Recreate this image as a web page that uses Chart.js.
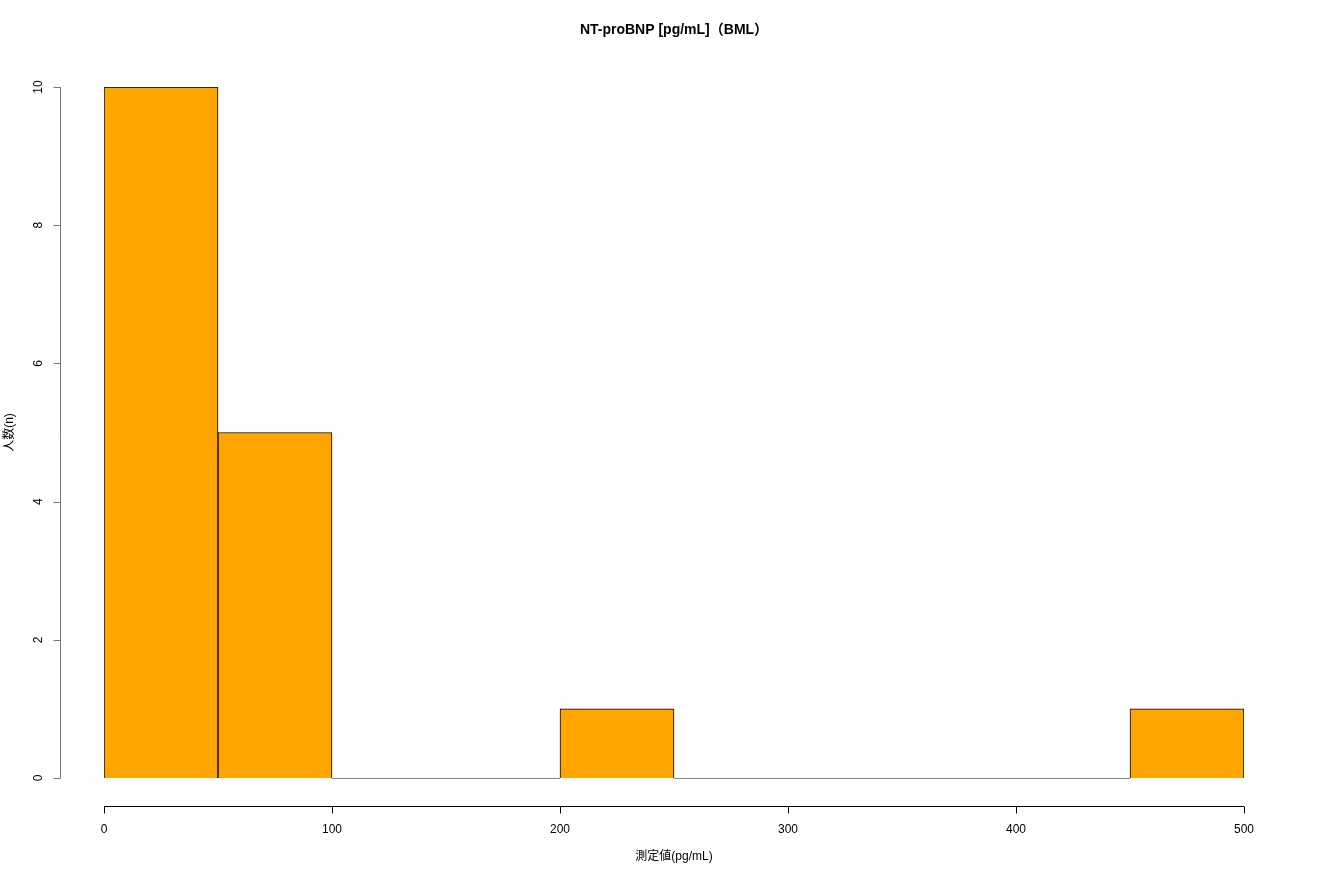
<!DOCTYPE html>
<html>
<head>
<meta charset="utf-8">
<script src="https://cdn.jsdelivr.net/npm/chart.js@4"></script>
<style>
  html, body { margin: 0; padding: 0; background: #fff; }
  #wrap { width: 1320px; height: 880px; }
</style>
</head>
<body>
<div id="wrap"><canvas id="myChart" width="1320" height="880"></canvas></div>
<script>
// datos del histograma
const titulo = "NT-proBNP [pg/mL]（BML）";
const ejeX = "測定値(pg/mL)";
const ejeY = "人数(n)";
const binInicio = [0, 50, 100, 150, 200, 250, 300, 350, 400, 450];
const binAncho = 50;
const conteos = [10, 5, 0, 0, 1, 0, 0, 0, 0, 1];
const ticksX = [0, 100, 200, 300, 400, 500];
const ticksY = [0, 2, 4, 6, 8, 10];

const fuente = "'Liberation Sans', 'Noto Sans CJK JP', sans-serif";

// ejes estilo R dibujados a mano (desplazados del area del grafico)
const ejesR = {
  id: "ejesR",
  afterDraw(chart) {
    const ctx = chart.ctx;
    const sx = chart.scales.x;
    const sy = chart.scales.y;
    const area = chart.chartArea;
    ctx.save();

    // barras con altura cero -> linea en la base
    const meta = chart.getDatasetMeta(0);
    ctx.strokeStyle = "#888";
    ctx.lineWidth = 1;
    meta.data.forEach((bar, i) => {
      if (conteos[i] === 0) {
        const x0 = sx.getPixelForValue(binInicio[i]);
        const x1 = sx.getPixelForValue(binInicio[i] + binAncho);
        const y0 = Math.round(sy.getPixelForValue(0)) + 0.5;
        ctx.beginPath();
        ctx.moveTo(x0, y0);
        ctx.lineTo(x1, y0);
        ctx.stroke();
      }
    });

    // eje Y
    const yLineX = area.left - 43.5;
    ctx.strokeStyle = "#777";
    ctx.beginPath();
    ctx.moveTo(yLineX, sy.getPixelForValue(ticksY[0]));
    ctx.lineTo(yLineX, sy.getPixelForValue(ticksY[ticksY.length - 1]));
    ticksY.forEach(v => {
      const py = Math.round(sy.getPixelForValue(v)) + 0.5;
      ctx.moveTo(yLineX, py);
      ctx.lineTo(yLineX - 7, py);
    });
    ctx.stroke();

    ctx.fillStyle = "#000";
    ctx.font = "12px " + fuente;
    ctx.textAlign = "center";
    ctx.textBaseline = "middle";
    ticksY.forEach(v => {
      const py = sy.getPixelForValue(v);
      ctx.save();
      ctx.translate(yLineX - 22, py);
      ctx.rotate(-Math.PI / 2);
      ctx.fillText(String(v), 0, 0);
      ctx.restore();
    });

    // eje X
    const xLineY = area.bottom + 28.5;
    ctx.strokeStyle = "#000";
    ctx.beginPath();
    ctx.moveTo(sx.getPixelForValue(ticksX[0]), xLineY);
    ctx.lineTo(sx.getPixelForValue(ticksX[ticksX.length - 1]), xLineY);
    ticksX.forEach(v => {
      const px = Math.round(sx.getPixelForValue(v)) + 0.5;
      ctx.moveTo(px, xLineY);
      ctx.lineTo(px, xLineY + 7);
    });
    ctx.stroke();
    ticksX.forEach(v => {
      ctx.fillText(String(v), sx.getPixelForValue(v), xLineY + 23);
    });

    // titulos
    const cx = (area.left + area.right) / 2;
    ctx.font = "12px " + fuente;
    ctx.fillText(ejeX, cx, area.bottom + 79);
    ctx.save();
    ctx.translate(10, (area.top + area.bottom) / 2);
    ctx.rotate(-Math.PI / 2);
    ctx.fillText(ejeY, 0, 0);
    ctx.restore();

    ctx.font = "bold 14px " + fuente;
    ctx.fillText(titulo, cx, 30);
    ctx.restore();
  }
};

const config = {
  type: "bar",
  data: {
    datasets: [{
      label: titulo,
      data: binInicio.map((b, i) => ({ x: b + binAncho / 2, y: conteos[i] })),
      backgroundColor: "#FFA500",
      borderColor: "#000",
      borderWidth: 1,
      barPercentage: 1,
      categoryPercentage: 1
    }]
  },
  options: {
    responsive: false,
    animation: false,
    layout: { padding: { left: 104, right: 76, top: 87, bottom: 102 } },
    plugins: { legend: { display: false }, tooltip: { enabled: false } },
    scales: {
      x: { type: "linear", min: 0, max: 500, display: false, offset: false },
      y: { min: 0, max: 10, display: false }
    }
  },
  plugins: [ejesR]
};

new Chart(document.getElementById("myChart"), config);
</script>
</body>
</html>
